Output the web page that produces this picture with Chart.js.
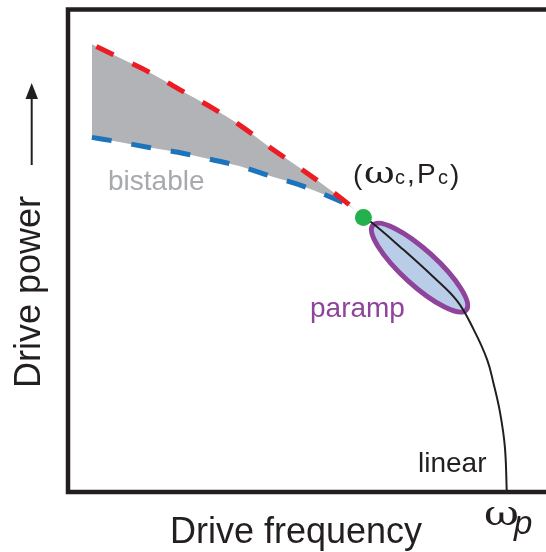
<!DOCTYPE html>
<html>
<head>
<meta charset="utf-8">
<script src="https://cdn.jsdelivr.net/npm/chart.js@4"></script>
<style>
 body { margin: 0; background: #fff; }
 #wrap { width: 546px; height: 552px; }
</style>
</head>
<body>
<div id="wrap"><canvas id="phaseChart"></canvas></div>
<script>
'use strict';

// bistable region: upper (red) and lower (blue) switching curves
const bistableFreq = [5, 11, 17, 23, 30, 36, 42, 48, 55, 59, 61.8]
const upperPower = [92.8, 89.9, 87.0, 83.6, 79.7, 76.0, 71.6, 67.5, 62.5, 59.4, 56.9]
const lowerPower = [73.5, 72.5, 71.4, 70.4, 68.9, 67.5, 65.6, 63.8, 61.1, 59.2, 56.9]

// linear response line from the critical point down to omega_p
const linearFreq = [61.8, 63.6, 69.5, 76.4, 81.4, 84.9, 87.7, 89.0, 90.4, 91.4, 91.8]
const linearPower = [56.9, 55.8, 50.8, 44.6, 39.6, 33.6, 27.4, 22.6, 16.4, 9.3, 0]

// critical point (omega_c, P_c)
const criticalPoint = [61.8, 56.9]

// paramp ellipse: two ends of the long axis and one end of the short axis
const parampLongAxis = [[63.8, 55.3], [83.3, 37.7]]
const parampShortEnd = [76.0, 49.2]

const ink = '#231F20'
const sans = "'Liberation Sans', Arial, sans-serif"
const serif = "'DejaVu Serif', 'Liberation Serif', serif"

const toPoints = (xs, ys) => xs.map((x, i) => ({ x: x, y: ys[i] }))

/**
 * Draws the paramp ellipse through the chart scales
 */
const parampPlugin = {
  id: 'paramp',
  beforeDatasetsDraw(chart) {
    const { ctx, scales: { x, y } } = chart
    const a = { x: x.getPixelForValue(parampLongAxis[0][0]), y: y.getPixelForValue(parampLongAxis[0][1]) }
    const b = { x: x.getPixelForValue(parampLongAxis[1][0]), y: y.getPixelForValue(parampLongAxis[1][1]) }
    const s = { x: x.getPixelForValue(parampShortEnd[0]), y: y.getPixelForValue(parampShortEnd[1]) }
    const cx = (a.x + b.x) / 2
    const cy = (a.y + b.y) / 2
    const rx = Math.hypot(b.x - a.x, b.y - a.y) / 2
    const ry = Math.hypot(s.x - cx, s.y - cy)
    const angle = Math.atan2(b.y - a.y, b.x - a.x)
    ctx.save()
    ctx.beginPath()
    ctx.ellipse(cx, cy, rx, ry, angle, 0, Math.PI * 2)
    ctx.fillStyle = '#B9CDE9'
    ctx.fill()
    ctx.lineWidth = 5
    ctx.strokeStyle = '#8E449A'
    ctx.stroke()
    ctx.restore()
  }
}

/**
 * Draws the open frame (top, left, bottom) around the plot
 */
const framePlugin = {
  id: 'frame',
  afterDatasetsDraw(chart) {
    const { ctx, chartArea } = chart
    ctx.save()
    ctx.strokeStyle = ink
    ctx.lineWidth = 4.5
    ctx.lineJoin = 'miter'
    ctx.beginPath()
    ctx.moveTo(chart.width + 5, chartArea.top)
    ctx.lineTo(chartArea.left, chartArea.top)
    ctx.lineTo(chartArea.left, chartArea.bottom)
    ctx.lineTo(chart.width + 5, chartArea.bottom)
    ctx.stroke()
    ctx.restore()
  }
}

// small helper to write one piece of text, optionally stretched sideways
const put = (ctx, text, x, y, font, color, stretch = 1) => {
  ctx.save()
  ctx.font = font
  ctx.fillStyle = color
  ctx.translate(x, y)
  ctx.scale(stretch, 1)
  ctx.fillText(text, 0, 0)
  ctx.restore()
}

/**
 * Draws the labels, axis titles and the power arrow
 */
const labelPlugin = {
  id: 'labels',
  afterDraw(chart) {
    const { ctx } = chart
    ctx.save()
    ctx.textAlign = 'left'
    ctx.textBaseline = 'alphabetic'

    put(ctx, 'bistable', 108, 190, '28px ' + sans, '#A7A9AC')
    put(ctx, 'paramp', 310, 317, '28px ' + sans, '#8E449A')
    put(ctx, 'linear', 418, 472, '28px ' + sans, ink)

    // (ω_c,P_c)
    put(ctx, '(', 353, 184, '28px ' + sans, ink)
    put(ctx, 'ω', 364, 183, '29px ' + serif, ink, 1.3)
    put(ctx, 'c', 395, 184, '20px ' + sans, ink)
    put(ctx, ',', 407, 183, '28px ' + sans, ink)
    put(ctx, 'P', 417, 183, '28px ' + sans, ink)
    put(ctx, 'c', 438, 184, '20px ' + sans, ink)
    put(ctx, ')', 450, 184, '28px ' + sans, ink)

    // axis titles
    put(ctx, 'Drive frequency', 170, 543, '36px ' + sans, ink)
    put(ctx, 'ω', 484, 525, '33px ' + serif, ink, 1.3)
    put(ctx, 'p', 514, 534, 'italic 33px ' + sans, ink)

    ctx.save()
    ctx.translate(40, 388)
    ctx.rotate(-Math.PI / 2)
    put(ctx, 'Drive power', 0, 0, '36px ' + sans, ink)
    ctx.restore()

    // arrow next to the power title
    ctx.strokeStyle = ink
    ctx.fillStyle = ink
    ctx.lineWidth = 2
    ctx.beginPath()
    ctx.moveTo(31.7, 165)
    ctx.lineTo(31.7, 96)
    ctx.stroke()
    ctx.beginPath()
    ctx.moveTo(31.7, 83)
    ctx.lineTo(25.5, 99)
    ctx.lineTo(38, 99)
    ctx.closePath()
    ctx.fill()

    ctx.restore()
  }
}

const chartData = {
  datasets: [
    {
      label: 'critical point',
      data: [{ x: criticalPoint[0], y: criticalPoint[1] }],
      showLine: false,
      pointRadius: 8.5,
      pointBackgroundColor: '#22B14C',
      pointBorderWidth: 0,
      order: -1
    },
    {
      label: 'upper',
      data: toPoints(bistableFreq, upperPower),
      borderColor: '#ED1C24',
      borderWidth: 5,
      borderDash: [19, 21],
      borderDashOffset: -5,
      backgroundColor: '#B2B3B6',
      fill: '+1',
      cubicInterpolationMode: 'monotone',
      pointRadius: 0
    },
    {
      label: 'lower',
      data: toPoints(bistableFreq, lowerPower),
      borderColor: '#1C75BC',
      borderWidth: 5,
      borderDash: [20, 20],
      fill: false,
      cubicInterpolationMode: 'monotone',
      pointRadius: 0
    },
    {
      label: 'linear',
      data: toPoints(linearFreq, linearPower),
      borderColor: ink,
      borderWidth: 2,
      fill: false,
      tension: 0.4,
      pointRadius: 0
    }
  ]
}

const config = {
  type: 'line',
  data: chartData,
  options: {
    responsive: true,
    maintainAspectRatio: false,
    animation: false,
    layout: { autoPadding: false, padding: { left: 68, top: 9.5, right: 0, bottom: 60 } },
    scales: {
      x: { type: 'linear', min: 0, max: 100, display: false },
      y: { type: 'linear', min: 0, max: 100, display: false }
    },
    plugins: {
      legend: { display: false },
      tooltip: { enabled: false },
      filler: { drawTime: 'beforeDatasetsDraw', propagate: false }
    }
  },
  plugins: [parampPlugin, framePlugin, labelPlugin]
}

new Chart(document.getElementById('phaseChart'), config)
</script>
</body>
</html>
